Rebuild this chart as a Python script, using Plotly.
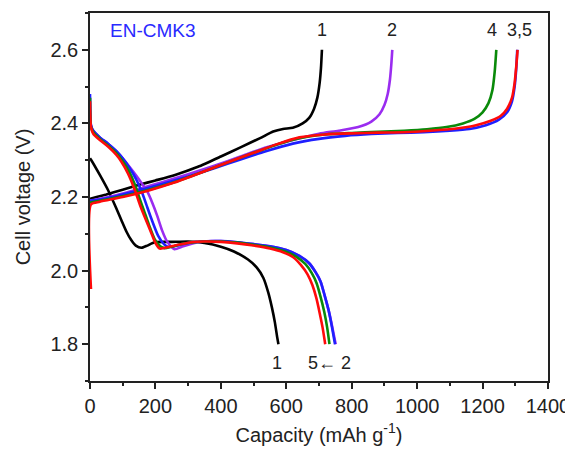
import plotly.graph_objects as go

# cycle 1 (black)
dis1_cap = [0, 4, 30, 55, 80, 96, 112, 126, 140, 157, 175, 198, 250, 300, 350, 400, 440, 483, 510, 530, 545, 556, 565, 572, 576]
dis1_v = [2.305, 2.30, 2.26, 2.219, 2.17, 2.137, 2.105, 2.083, 2.068, 2.062, 2.068, 2.077, 2.078, 2.079, 2.075, 2.065, 2.052, 2.03, 2.008, 1.98, 1.94, 1.90, 1.86, 1.82, 1.80]
chg1_cap = [0, 20, 50, 100, 150, 200, 260, 330, 400, 460, 520, 560, 590, 620, 650, 670, 685, 695, 702, 706, 709]
chg1_v = [2.195, 2.2, 2.207, 2.22, 2.233, 2.245, 2.26, 2.282, 2.31, 2.335, 2.36, 2.378, 2.385, 2.388, 2.40, 2.415, 2.44, 2.47, 2.51, 2.55, 2.60]

# cycle 2 (purple)
dis2_cap = [0, 3, 10, 30, 55, 80, 100, 120, 140, 160, 175, 190, 205, 220, 235, 258, 285, 330, 370, 400, 450, 500, 550, 600, 640, 670, 690, 705, 718, 730, 741, 751]
dis2_v = [2.47, 2.395, 2.38, 2.362, 2.345, 2.325, 2.305, 2.283, 2.26, 2.235, 2.215, 2.185, 2.15, 2.11, 2.08, 2.058, 2.066, 2.077, 2.08, 2.08, 2.077, 2.072, 2.066, 2.056, 2.04, 2.02, 1.995, 1.97, 1.93, 1.89, 1.845, 1.80]
chg2_cap = [0, 30, 80, 150, 220, 300, 380, 460, 540, 620, 700, 760, 820, 860, 885, 900, 910, 917, 921, 924]
chg2_v = [2.19, 2.195, 2.205, 2.222, 2.24, 2.262, 2.285, 2.31, 2.335, 2.355, 2.372, 2.38, 2.39, 2.405, 2.425, 2.45, 2.48, 2.52, 2.56, 2.60]

# cycle 3 (blue)
dis3_cap = [0, 3, 10, 30, 55, 80, 100, 120, 140, 158, 172, 188, 208, 226, 240, 265, 300, 340, 400, 450, 500, 550, 600, 640, 670, 690, 705, 718, 730, 740, 749]
dis3_v = [2.48, 2.395, 2.38, 2.362, 2.345, 2.325, 2.305, 2.28, 2.25, 2.215, 2.18, 2.14, 2.095, 2.072, 2.064, 2.068, 2.075, 2.079, 2.08, 2.077, 2.072, 2.066, 2.056, 2.04, 2.02, 1.995, 1.97, 1.93, 1.89, 1.845, 1.80]
chg3_cap = [0, 30, 80, 150, 220, 300, 380, 460, 540, 620, 700, 780, 860, 940, 1020, 1100, 1160, 1210, 1250, 1275, 1290, 1298, 1303, 1306]
chg3_v = [2.19, 2.193, 2.202, 2.218, 2.235, 2.256, 2.278, 2.302, 2.325, 2.345, 2.358, 2.366, 2.371, 2.374, 2.376, 2.38, 2.385, 2.395, 2.41, 2.43, 2.46, 2.50, 2.55, 2.60]

# cycle 4 (green)
dis4_cap = [0, 3, 10, 30, 55, 80, 98, 118, 138, 150, 165, 180, 198, 215, 228, 250, 280, 320, 360, 400, 450, 500, 550, 595, 630, 658, 678, 693, 705, 716, 725, 732]
dis4_v = [2.47, 2.39, 2.376, 2.358, 2.34, 2.32, 2.30, 2.272, 2.232, 2.2, 2.163, 2.125, 2.085, 2.066, 2.061, 2.065, 2.072, 2.077, 2.079, 2.079, 2.076, 2.07, 2.063, 2.053, 2.038, 2.018, 1.993, 1.965, 1.928, 1.888, 1.845, 1.80]
chg4_cap = [0, 30, 100, 180, 260, 350, 430, 500, 570, 640, 720, 800, 880, 960, 1030, 1090, 1140, 1175, 1200, 1218, 1230, 1237, 1242]
chg4_v = [2.185, 2.19, 2.202, 2.22, 2.241, 2.27, 2.297, 2.32, 2.342, 2.36, 2.37, 2.374, 2.377, 2.38, 2.384, 2.39, 2.40, 2.412, 2.43, 2.455, 2.49, 2.54, 2.60]

# cycle 5 (red)
dis5_cap = [0, 3, 10, 30, 55, 80, 96, 116, 137, 152, 167, 188, 200, 213, 240, 270, 310, 350, 400, 450, 500, 550, 590, 620, 645, 665, 680, 692, 702, 711, 719]
dis5_v = [2.46, 2.39, 2.372, 2.355, 2.337, 2.315, 2.296, 2.264, 2.219, 2.18, 2.146, 2.101, 2.075, 2.06, 2.064, 2.07, 2.077, 2.079, 2.078, 2.074, 2.068, 2.06, 2.05, 2.037, 2.015, 1.99, 1.96, 1.925, 1.885, 1.845, 1.80]
chg5_cap = [3, 3, 30, 100, 180, 260, 350, 430, 500, 570, 640, 720, 800, 880, 960, 1040, 1120, 1180, 1225, 1255, 1275, 1290, 1298, 1303, 1307]
chg5_v = [1.95, 2.18, 2.187, 2.20, 2.218, 2.24, 2.27, 2.297, 2.32, 2.343, 2.362, 2.37, 2.373, 2.375, 2.376, 2.38, 2.386, 2.395, 2.407, 2.42, 2.44, 2.47, 2.51, 2.555, 2.60]

curves = [
    (dis1_cap, dis1_v, chg1_cap, chg1_v, "black"),
    (dis2_cap, dis2_v, chg2_cap, chg2_v, "#9a2cf0"),
    (dis3_cap, dis3_v, chg3_cap, chg3_v, "#1f1fff"),
    (dis4_cap, dis4_v, chg4_cap, chg4_v, "#0a8a0a"),
    (dis5_cap, dis5_v, chg5_cap, chg5_v, "#ff0a0a"),
]

font = "Arial, Liberation Sans, sans-serif"

fig = go.Figure()
for dc, dv, cc, cv, col in curves:
    for x, y in ((dc, dv), (cc, cv)):
        fig.add_trace(go.Scatter(x=x, y=y, mode="lines",
                                 line=dict(color=col, width=2.6, shape="spline", smoothing=0.6),
                                 showlegend=False, hoverinfo="skip"))

labels = [("1", 709, 2.655), ("2", 924, 2.655), ("4", 1228, 2.655), ("3,5", 1313, 2.655),
          ("1", 572, 1.748), ("5\u2190 2", 733, 1.748)]
for txt, x, y in labels:
    fig.add_annotation(x=x, y=y, text=txt, showarrow=False,
                       font=dict(family=font, size=18, color="#222"))

fig.add_annotation(x=55, y=2.652, text="EN-CMK3", showarrow=False, xanchor="left",
                   font=dict(family=font, size=19, color="#2a2aff"))

axis_common = dict(showline=True, linecolor="#222", linewidth=1.5, mirror=True,
                   ticks="outside", ticklen=6, tickwidth=1.5, tickcolor="#222",
                   showgrid=False, zeroline=False, automargin=False,
                   tickfont=dict(family=font, size=20, color="#222"))

fig.update_xaxes(range=[0, 1400], dtick=200, tick0=0,
                 minor=dict(dtick=100, ticks="outside", ticklen=3.5, tickwidth=1.5, tickcolor="#222"),
                 title=dict(text="Capacity (mAh g<sup>-1</sup>)", font=dict(family=font, size=20, color="#222"),
                            standoff=12),
                 **axis_common)
fig.update_yaxes(range=[1.7, 2.7], dtick=0.2, tick0=1.8, tickformat=".1f",
                 minor=dict(dtick=0.1, ticks="outside", ticklen=3.5, tickwidth=1.5, tickcolor="#222"),
                 title=dict(text="Cell voltage (V)", font=dict(family=font, size=20, color="#222"),
                            standoff=14),
                 **axis_common)

# page body has an 8px margin, so the figure is sized to fit inside the window
fig.update_layout(width=565, height=442,
                  margin=dict(l=82, r=25, t=5, b=69),
                  paper_bgcolor="white", plot_bgcolor="white")

fig.write_html("out.html")
